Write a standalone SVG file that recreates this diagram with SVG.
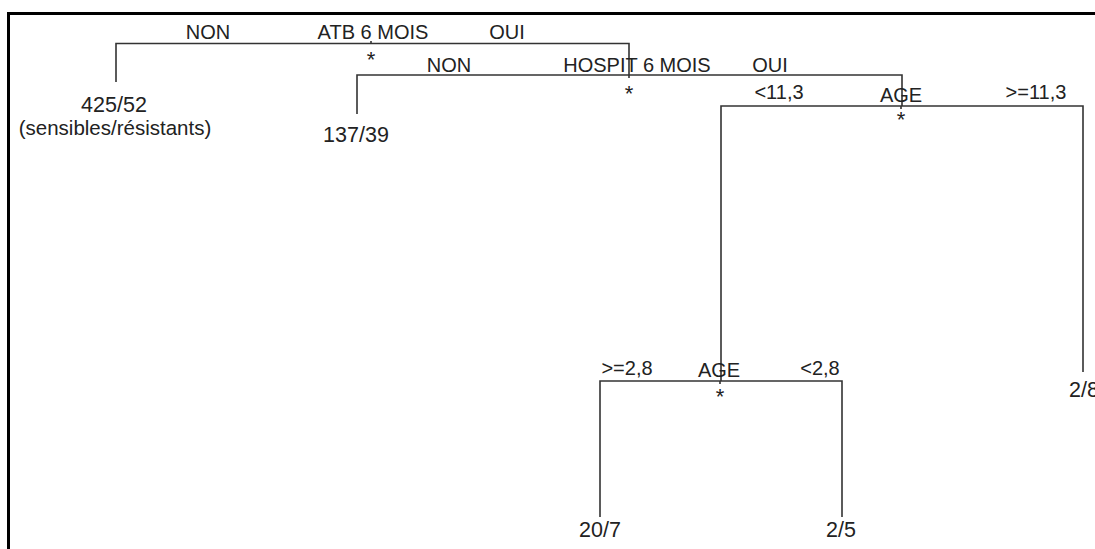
<svg xmlns="http://www.w3.org/2000/svg" width="1095" height="549" viewBox="0 0 1095 549">
<style>
.t{font-family:"Liberation Sans",Arial,sans-serif;fill:#222;text-anchor:middle}
.lb{font-size:20px}
.nb{font-size:21.5px}
.st{font-family:"Liberation Sans",Arial,sans-serif;font-size:22px;fill:#222;text-anchor:middle}
.e{stroke:#333;stroke-width:1.6;fill:none}
</style>
<rect width="1095" height="549" fill="#fff"/>
<path d="M8.5 549 V13.5 H1095" stroke="#000" stroke-width="3" fill="none"/>
<g id="connectors">
<path class="e" d="M116 82 V43.5 H629 V75"/>
<path class="e" d="M371 41 V43.5"/>
<path class="e" d="M357 114 V75 H902 V106"/>
<path class="e" d="M629 75 V78"/>
<path class="e" d="M721 381 V106 H1083 V372"/>
<path class="e" d="M901 106 V109"/>
<path class="e" d="M600 517 V381 H842 V517"/>
<path class="e" d="M720 381 V384"/>
</g>
<g id="split-atb">
<text class="t lb" x="208" y="39">NON</text>
<text class="t lb" x="373" y="39">ATB 6 MOIS</text>
<text class="t lb" x="507" y="39">OUI</text>
<text class="st" x="371" y="67">*</text>
</g>
<g id="leaf-425">
<text class="t nb" x="114" y="112">425/52</text>
<text class="t" x="115" y="135" style="font-size:20.5px">(sensibles/résistants)</text>
</g>
<g id="split-hospit">
<text class="t lb" x="449" y="72">NON</text>
<text class="t lb" x="637" y="72">HOSPIT 6 MOIS</text>
<text class="t lb" x="770" y="72">OUI</text>
<text class="st" x="629" y="101">*</text>
</g>
<g id="leaf-137">
<text class="t nb" x="356" y="142">137/39</text>
</g>
<g id="split-age1">
<text class="t lb" x="779" y="99">&lt;11,3</text>
<text class="t lb" x="901" y="102">AGE</text>
<text class="t lb" x="1036" y="99">&gt;=11,3</text>
<text class="st" x="901" y="127">*</text>
</g>
<g id="leaf-2-8">
<text class="t nb" x="1084" y="397">2/8</text>
</g>
<g id="split-age2">
<text class="t lb" x="627" y="375">&gt;=2,8</text>
<text class="t lb" x="719" y="377">AGE</text>
<text class="t lb" x="820" y="375">&lt;2,8</text>
<text class="st" x="720" y="404">*</text>
</g>
<g id="leaf-20-7">
<text class="t nb" x="600" y="537">20/7</text>
</g>
<g id="leaf-2-5">
<text class="t nb" x="841" y="537">2/5</text>
</g>
</svg>
